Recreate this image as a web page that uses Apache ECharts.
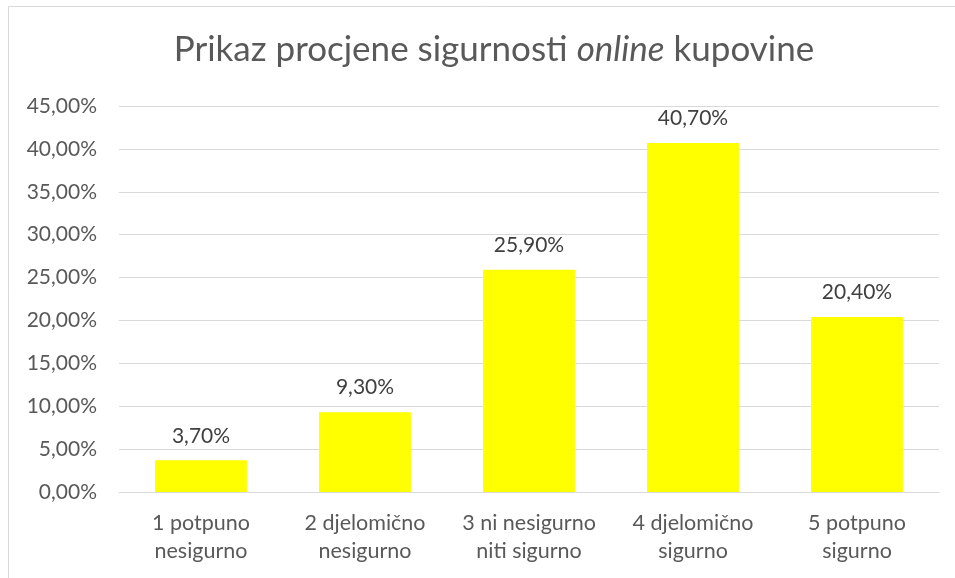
<!DOCTYPE html>
<html>
<head>
<meta charset="utf-8">
<script src="https://cdn.jsdelivr.net/npm/echarts@6/dist/echarts.min.js"></script>
<style>
	html, body { margin: 0; padding: 0; background: #fff; }
	#chart { width: 955px; height: 578px; }
</style>
</head>
<body>
<div id="chart"></div>
<script>
// 데이터
var categories = ['1 potpuno\nnesigurno', '2 djelomično\nnesigurno', '3 ni nesigurno\nniti sigurno', '4 djelomično\nsigurno', '5 potpuno\nsigurno'];
var values = [3.7, 9.3, 25.9, 40.7, 20.4];

// 숫자 -> "3,70%"
function pct(v) {
	return v.toFixed(2).replace('.', ',') + '%';
}

var chart = echarts.init(document.getElementById('chart'));
var option = {
	animation: false,
	textStyle: { fontFamily: 'Lato' },
	graphic: [{
		type: 'rect',
		shape: { x: 8.5, y: 6.5, width: 1000, height: 700 },
		style: { fill: 'none', stroke: '#d9d9d9', lineWidth: 1 },
		silent: true
	}],
	title: {
		text: 'Prikaz procjene sigurnosti {i|online} kupovine',
		left: 489,
		textAlign: 'center',
		top: 27,
		textStyle: {
			fontFamily: 'Lato',
			fontSize: 35,
			fontWeight: 'normal',
			color: '#595959',
			rich: {
				i: { fontFamily: 'Lato', fontSize: 35, fontStyle: 'italic', color: '#595959' }
			}
		}
	},
	grid: { left: 119, right: 16, top: 106, bottom: 86 },
	xAxis: {
		type: 'category',
		data: categories,
		axisLine: { lineStyle: { color: '#d9d9d9' } },
		axisTick: { show: false },
		axisLabel: { color: '#595959', fontSize: 21.5, lineHeight: 28, margin: 17, interval: 0 }
	},
	yAxis: {
		type: 'value',
		min: 0,
		max: 45,
		interval: 5,
		axisLine: { show: false },
		axisTick: { show: false },
		splitLine: { lineStyle: { color: '#d9d9d9' } },
		axisLabel: {
			color: '#595959', fontSize: 21, margin: 22,
			formatter: function(v) { return pct(v); }
		}
	},
	series: [{
		type: 'bar',
		data: values,
		barCategoryGap: '44%',
		itemStyle: { color: '#ffff00' },
		label: {
			show: true,
			position: 'top',
			distance: 14,
			color: '#404040',
			fontSize: 21,
			formatter: function(p) { return pct(p.value); }
		}
	}]
};
chart.setOption(option);
</script>
</body>
</html>
